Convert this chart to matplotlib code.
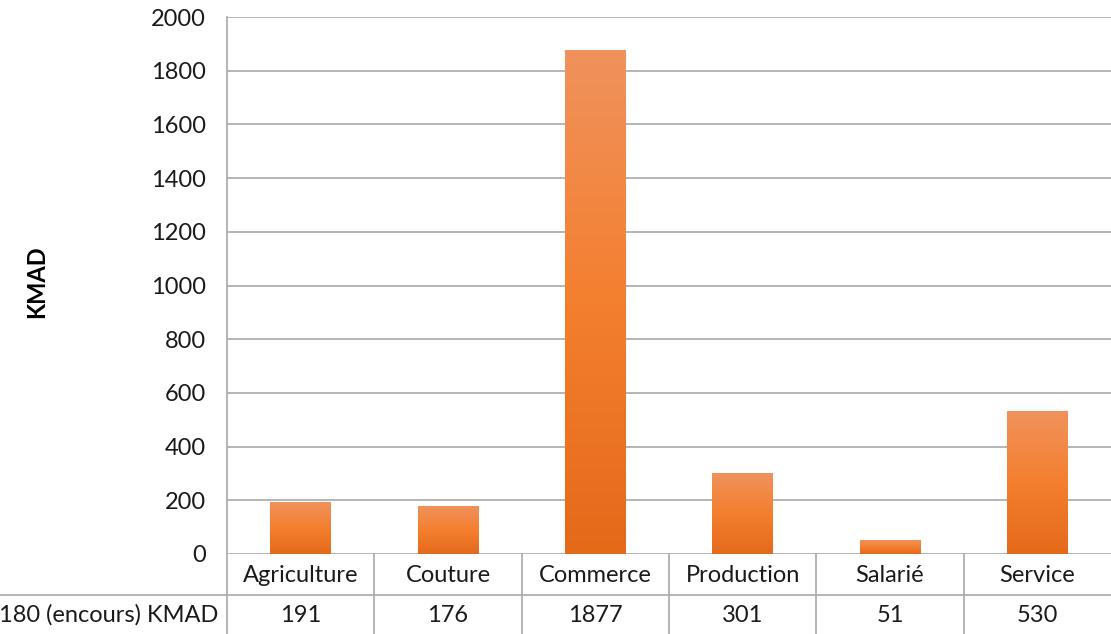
import matplotlib
matplotlib.use("Agg")
import matplotlib.pyplot as plt
import numpy as np
from matplotlib.colors import LinearSegmentedColormap

categories = ["Agriculture", "Couture", "Commerce", "Production", "Salarié", "Service"]
values = [191, 176, 1877, 301, 51, 530]
row_label = "180 (encours) KMAD"
y_ticks = [0, 200, 400, 600, 800, 1000, 1200, 1400, 1600, 1800, 2000]
y_label = "KMAD"

plt.rcParams['font.family'] = ['Lato', 'DejaVu Sans']
FS = 17

W, H = 1111, 634
fig = plt.figure(figsize=(W / 100, H / 100), dpi=100)
left, right, top, bottom = 227, 1111, 17, 554
ax = fig.add_axes([left / W, (H - bottom) / H, (right - left) / W, (bottom - top) / H])

n = len(categories)
ax.set_xlim(-0.5, n - 0.5)
ax.set_ylim(0, 2000)

grid_c = "#A8A8A8"
for t in y_ticks:
    ax.axhline(t, color=grid_c, lw=1.2, zorder=1)

cmap = LinearSegmentedColormap.from_list("og", ["#E46A1A", "#F47F2F", "#F0925C"])
grad = np.linspace(0, 1, 256).reshape(-1, 1)
bw = 0.41
for i, v in enumerate(values):
    ax.imshow(grad, extent=[i - bw / 2, i + bw / 2, 0, v], origin="lower",
              cmap=cmap, aspect="auto", zorder=2, interpolation="bilinear")
ax.set_xlim(-0.5, n - 0.5)
ax.set_ylim(0, 2000)

for s in ax.spines.values():
    s.set_visible(False)
ax.set_yticks(y_ticks)
ax.set_yticklabels([str(t) for t in y_ticks], fontsize=FS, color="#1a1a1a")
ax.tick_params(axis="y", length=0, pad=15)
ax.set_xticks([])

# left axis line
fig.add_artist(plt.Line2D([left / W, left / W], [0, (H - top) / H], color=grid_c, lw=1.2))

# data table
row1 = 595
for k in range(1, n):
    x = ax.transData.transform((k - 0.5, 0))[0]
    xf = fig.transFigure.inverted().transform((x, 0))[0]
    fig.add_artist(plt.Line2D([xf, xf], [0, (H - bottom) / H], color=grid_c, lw=1.2))
fig.add_artist(plt.Line2D([0, 1], [(H - row1) / H, (H - row1) / H], color=grid_c, lw=1.2))

for i, (c, v) in enumerate(zip(categories, values)):
    x = ax.transData.transform((i, 0))[0] / W
    fig.text(x, (H - 575) / H, c, ha="center", va="center", fontsize=FS, color="#1a1a1a")
    fig.text(x, (H - 615) / H, str(v), ha="center", va="center", fontsize=FS, color="#1a1a1a")
fig.text(218 / W, (H - 615) / H, row_label, ha="right", va="center", fontsize=FS, color="#1a1a1a")

fig.text(37 / W, (H - 282) / H, y_label, rotation=90, ha="center", va="center",
         fontsize=FS, fontweight="bold", color="#000000")

fig.savefig("out.png", dpi=100)
